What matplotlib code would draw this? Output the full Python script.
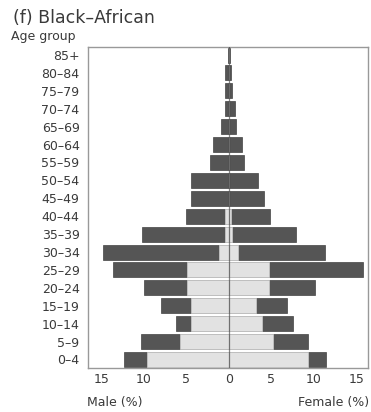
import matplotlib
matplotlib.use("Agg")
import matplotlib.pyplot as plt
import numpy as np

plt.rcParams['font.family'] = ['DejaVu Sans']

age_groups = ["0–4", "5–9", "10–14", "15–19", "20–24", "25–29", "30–34",
              "35–39", "40–44", "45–49", "50–54", "55–59", "60–64",
              "65–69", "70–74", "75–79", "80–84", "85+"]

# Overall population share by age (%), dark bars
male_dark = [12.3, 10.3, 6.2, 8.0, 10.0, 13.6, 14.8, 10.2, 5.0, 4.4, 4.4,
             2.2, 1.9, 0.9, 0.5, 0.4, 0.4, 0.15]
female_dark = [11.5, 9.3, 7.6, 6.9, 10.2, 15.8, 11.3, 7.9, 4.9, 4.1, 3.4,
               1.8, 1.6, 0.9, 0.7, 0.4, 0.3, 0.1]

# Sub-group share by age (%), light bars
male_light = [9.6, 5.8, 4.4, 4.4, 4.9, 4.9, 1.2, 0.4, 0.4, 0, 0, 0, 0, 0,
              0, 0, 0, 0]
female_light = [9.3, 5.2, 3.9, 3.2, 4.7, 4.7, 1.1, 0.4, 0.2, 0, 0, 0, 0,
                0, 0, 0, 0, 0]

x_ticks = [-15, -10, -5, 0, 5, 10, 15]

dark = "#555555"
light = "#e2e2e2"
text_col = "#3a3a3a"

fig = plt.figure(figsize=(3.71, 4.12), dpi=100)
ax = fig.add_axes([0.237, 0.107, 0.755, 0.779])

y = np.arange(len(age_groups))
h = 0.84
ax.barh(y, -np.array(male_dark), height=h, color=dark, edgecolor="#444444",
        linewidth=0.5, zorder=2)
ax.barh(y, female_dark, height=h, color=dark, edgecolor="#444444",
        linewidth=0.5, zorder=2)
ax.barh(y, -np.array(male_light), height=h, color=light, edgecolor="#cccccc",
        linewidth=0.5, zorder=3)
ax.barh(y, female_light, height=h, color=light, edgecolor="#cccccc",
        linewidth=0.5, zorder=3)

ax.axvline(0, color="#333333", linewidth=0.9, alpha=0.6, zorder=4)

ax.set_xlim(-16.6, 16.4)
ax.set_ylim(-0.47, 17.45)
ax.set_yticks(y)
ax.set_yticklabels(age_groups)
ax.set_xticks(x_ticks)
ax.set_xticklabels([str(abs(v)) for v in x_ticks])
ax.tick_params(length=0, labelsize=9, colors=text_col)
ax.tick_params(axis="y", pad=6)
ax.tick_params(axis="x", pad=4)
for s in ax.spines.values():
    s.set_color("#999999")
    s.set_linewidth(1.0)

fig.text(0.035, 0.957, "(f) Black–African", fontsize=12.5, color=text_col,
         ha="left", va="center")
fig.text(0.03, 0.912, "Age group", fontsize=9, color=text_col,
         ha="left", va="center")
fig.text(0.234, 0.024, "Male (%)", fontsize=9, color=text_col,
         ha="left", va="center")
fig.text(0.994, 0.024, "Female (%)", fontsize=9, color=text_col,
         ha="right", va="center")

fig.savefig("out.png", dpi=100)
